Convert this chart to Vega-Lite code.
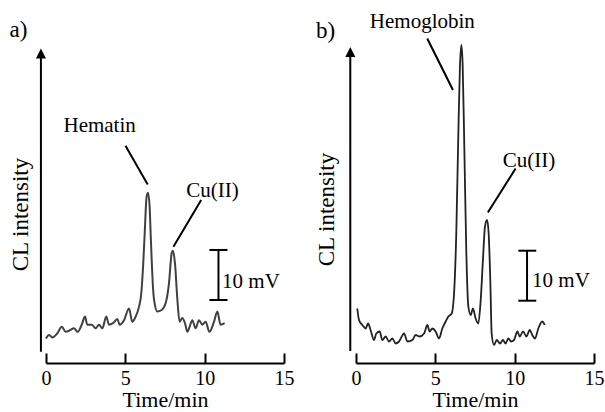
{
  "$schema": "https://vega.github.io/schema/vega-lite/v6.json",
  "padding": {"left": 9, "top": 8, "right": 0, "bottom": 0},
  "bounds": "flush",
  "spacing": 72,
  "background": "white",
  "config": {
    "view": {"stroke": null},
    "font": "Liberation Serif, Times New Roman, serif",
    "axis": {"grid": false, "labelFont": "Liberation Serif, Times New Roman, serif", "titleFont": "Liberation Serif, Times New Roman, serif", "labelColor": "black", "titleColor": "black", "titleFontWeight": "normal"},
    "text": {"font": "Liberation Serif, Times New Roman, serif", "color": "black"}
  },
  "datasets": {
    "traceA": [
      {"t": 0.0, "v": 4.8}, {"t": 0.19, "v": 5.5}, {"t": 0.4, "v": 5.0}, {"t": 0.71, "v": 5.8}, {"t": 1.0, "v": 7.1},
      {"t": 1.24, "v": 6.1}, {"t": 1.55, "v": 6.5}, {"t": 1.76, "v": 6.8}, {"t": 2.0, "v": 6.1}, {"t": 2.25, "v": 7.5},
      {"t": 2.46, "v": 9.1}, {"t": 2.6, "v": 7.5}, {"t": 2.88, "v": 7.5}, {"t": 3.13, "v": 6.8}, {"t": 3.34, "v": 7.5},
      {"t": 3.55, "v": 6.8}, {"t": 3.8, "v": 9.1}, {"t": 3.97, "v": 7.5}, {"t": 4.22, "v": 7.8}, {"t": 4.5, "v": 8.6},
      {"t": 4.64, "v": 7.5}, {"t": 4.92, "v": 8.4}, {"t": 5.23, "v": 10.7}, {"t": 5.44, "v": 8.1}, {"t": 5.65, "v": 9.1},
      {"t": 5.86, "v": 11.0}, {"t": 6.0, "v": 13.5}, {"t": 6.12, "v": 19.0}, {"t": 6.22, "v": 25.4}, {"t": 6.34, "v": 32.6},
      {"t": 6.43, "v": 33.4}, {"t": 6.53, "v": 30.7}, {"t": 6.6, "v": 25.0}, {"t": 6.66, "v": 20.2}, {"t": 6.73, "v": 15.5},
      {"t": 6.81, "v": 12.4}, {"t": 7.02, "v": 10.1}, {"t": 7.29, "v": 10.4}, {"t": 7.54, "v": 11.7}, {"t": 7.75, "v": 15.6},
      {"t": 7.92, "v": 21.5}, {"t": 8.0, "v": 22.0}, {"t": 8.13, "v": 19.5}, {"t": 8.28, "v": 12.4}, {"t": 8.42, "v": 8.1},
      {"t": 8.59, "v": 8.8}, {"t": 8.76, "v": 7.8}, {"t": 8.91, "v": 6.1}, {"t": 9.05, "v": 7.1}, {"t": 9.22, "v": 8.4},
      {"t": 9.43, "v": 6.8}, {"t": 9.64, "v": 8.4}, {"t": 9.85, "v": 7.5}, {"t": 10.06, "v": 8.1}, {"t": 10.3, "v": 6.1},
      {"t": 10.59, "v": 8.1}, {"t": 10.8, "v": 10.1}, {"t": 11.0, "v": 7.5}, {"t": 11.26, "v": 7.8}
    ],
    "traceB": [
      {"t": 0.08, "v": 10.7}, {"t": 0.19, "v": 8.4}, {"t": 0.4, "v": 7.4}, {"t": 0.61, "v": 6.7}, {"t": 0.76, "v": 7.7},
      {"t": 0.92, "v": 6.4}, {"t": 1.13, "v": 4.4}, {"t": 1.28, "v": 5.7}, {"t": 1.49, "v": 6.1}, {"t": 1.66, "v": 4.4},
      {"t": 1.87, "v": 5.1}, {"t": 2.08, "v": 4.1}, {"t": 2.29, "v": 4.7}, {"t": 2.5, "v": 3.7}, {"t": 2.71, "v": 4.1},
      {"t": 3.03, "v": 5.7}, {"t": 3.24, "v": 4.1}, {"t": 3.55, "v": 4.4}, {"t": 3.76, "v": 5.4}, {"t": 4.01, "v": 5.1},
      {"t": 4.29, "v": 5.7}, {"t": 4.5, "v": 7.4}, {"t": 4.64, "v": 6.1}, {"t": 4.81, "v": 6.7}, {"t": 5.02, "v": 6.1},
      {"t": 5.23, "v": 4.7}, {"t": 5.44, "v": 6.7}, {"t": 5.65, "v": 8.1}, {"t": 5.82, "v": 9.1}, {"t": 6.03, "v": 9.7},
      {"t": 6.18, "v": 13.7}, {"t": 6.32, "v": 25.7}, {"t": 6.45, "v": 45.7}, {"t": 6.55, "v": 59.0}, {"t": 6.64, "v": 63.4},
      {"t": 6.72, "v": 59.7}, {"t": 6.83, "v": 42.4}, {"t": 6.95, "v": 22.4}, {"t": 7.08, "v": 11.1}, {"t": 7.23, "v": 9.4},
      {"t": 7.37, "v": 10.7}, {"t": 7.54, "v": 8.7}, {"t": 7.71, "v": 7.7}, {"t": 7.86, "v": 12.4}, {"t": 8.0, "v": 20.4},
      {"t": 8.13, "v": 27.1}, {"t": 8.26, "v": 28.4}, {"t": 8.36, "v": 25.7}, {"t": 8.47, "v": 15.7}, {"t": 8.55, "v": 5.7},
      {"t": 8.7, "v": 3.4}, {"t": 8.87, "v": 4.4}, {"t": 9.08, "v": 3.7}, {"t": 9.26, "v": 4.4}, {"t": 9.43, "v": 3.7},
      {"t": 9.6, "v": 4.7}, {"t": 9.77, "v": 4.1}, {"t": 9.96, "v": 4.4}, {"t": 10.17, "v": 6.1}, {"t": 10.32, "v": 5.1},
      {"t": 10.53, "v": 6.1}, {"t": 10.74, "v": 5.1}, {"t": 10.95, "v": 6.4}, {"t": 11.11, "v": 5.4}, {"t": 11.28, "v": 4.7},
      {"t": 11.49, "v": 6.7}, {"t": 11.74, "v": 8.1}, {"t": 11.89, "v": 7.4}
    ]
  },
  "hconcat": [
    {
      "width": 238,
      "height": 343,
      "layer": [
        {
          "data": {"name": "traceA"},
          "mark": {"type": "line", "color": "#404040", "strokeWidth": 2, "interpolate": "monotone"},
          "encoding": {
            "x": {"field": "t", "type": "quantitative", "scale": {"domain": [0, 15], "nice": false, "zero": false},
              "axis": {"title": "Time/min", "values": [0, 5, 10, 15], "format": "d", "offset": 12, "domainWidth": 2, "domainColor": "black", "tickColor": "black", "tickWidth": 2, "tickSize": -10, "labelPadding": 15, "labelFontSize": 20, "titleFontSize": 22, "titlePadding": 1, "labelFlush": false}},
            "y": {"field": "v", "type": "quantitative", "scale": {"domain": [2.35, 69.6], "nice": false, "zero": false},
              "axis": {"title": "CL intensity", "domain": false, "ticks": false, "labels": false, "titleFontSize": 23, "titlePadding": 14, "titleY": 206}}
          }
        },
        {
          "data": {"values": [{"t": -0.32, "v": 2.2, "v2": 60.7}]},
          "mark": {"type": "rule", "color": "black", "strokeWidth": 2},
          "encoding": {"x": {"field": "t", "type": "quantitative"}, "y": {"field": "v", "type": "quantitative"}, "y2": {"field": "v2"}}
        },
        {
          "data": {"values": [{"t": -0.32, "v": 60.7}]},
          "mark": {"type": "point", "shape": "M-1,1L1,1L0,-1Z", "size": 100, "filled": true, "color": "black", "opacity": 1},
          "encoding": {"x": {"field": "t", "type": "quantitative"}, "y": {"field": "v", "type": "quantitative"}}
        },
        {
          "data": {"values": [
            {"t": 10.87, "v": 12.35, "t2": 10.87, "v2": 22.16},
            {"t": 10.3, "v": 22.16, "t2": 11.44, "v2": 22.16},
            {"t": 10.3, "v": 12.35, "t2": 11.44, "v2": 12.35},
            {"t": 5.01, "v": 42.6, "t2": 6.41, "v2": 35.0},
            {"t": 9.78, "v": 31.96, "t2": 8.03, "v2": 22.8}
          ]},
          "mark": {"type": "rule", "color": "black", "strokeWidth": 2},
          "encoding": {"x": {"field": "t", "type": "quantitative"}, "y": {"field": "v", "type": "quantitative"}, "x2": {"field": "t2"}, "y2": {"field": "v2"}}
        },
        {
          "data": {"values": [
            {"t": 3.38, "v": 45.35, "label": "Hematin"},
            {"t": 10.5, "v": 32.6, "label": "Cu(II)"}
          ]},
          "mark": {"type": "text", "fontSize": 21, "align": "center", "baseline": "alphabetic"},
          "encoding": {"x": {"field": "t", "type": "quantitative"}, "y": {"field": "v", "type": "quantitative"}, "text": {"field": "label"}}
        },
        {
          "data": {"values": [
            {"t": 11.1, "v": 14.7, "label": "10 mV"}
          ]},
          "mark": {"type": "text", "fontSize": 21, "align": "left", "baseline": "alphabetic"},
          "encoding": {"x": {"field": "t", "type": "quantitative"}, "y": {"field": "v", "type": "quantitative"}, "text": {"field": "label"}}
        },
        {
          "data": {"values": [
            {"t": -2.3, "v": 63.9, "label": "a)"}
          ]},
          "mark": {"type": "text", "fontSize": 23, "align": "left", "baseline": "alphabetic"},
          "encoding": {"x": {"field": "t", "type": "quantitative"}, "y": {"field": "v", "type": "quantitative"}, "text": {"field": "label"}}
        }
      ]
    },
    {
      "width": 238,
      "height": 343,
      "layer": [
        {
          "data": {"name": "traceB"},
          "mark": {"type": "line", "color": "#222222", "strokeWidth": 1.8, "interpolate": "monotone"},
          "encoding": {
            "x": {"field": "t", "type": "quantitative", "scale": {"domain": [0, 15], "nice": false, "zero": false},
              "axis": {"title": "Time/min", "values": [0, 5, 10, 15], "format": "d", "offset": 12, "domainWidth": 2, "domainColor": "black", "tickColor": "black", "tickWidth": 2, "tickSize": -10, "labelPadding": 15, "labelFontSize": 20, "titleFontSize": 22, "titlePadding": 1, "labelFlush": false}},
            "y": {"field": "v", "type": "quantitative", "scale": {"domain": [2.2, 70.8], "nice": false, "zero": false},
              "axis": {"title": "CL intensity", "domain": false, "ticks": false, "labels": false, "titleFontSize": 23, "titlePadding": 18, "titleY": 201}}
          }
        },
        {
          "data": {"values": [{"t": -0.36, "v": 2.2, "v2": 62.0}]},
          "mark": {"type": "rule", "color": "black", "strokeWidth": 2},
          "encoding": {"x": {"field": "t", "type": "quantitative"}, "y": {"field": "v", "type": "quantitative"}, "y2": {"field": "v2"}}
        },
        {
          "data": {"values": [{"t": -0.36, "v": 62.0}]},
          "mark": {"type": "point", "shape": "M-1,1L1,1L0,-1Z", "size": 100, "filled": true, "color": "black", "opacity": 1},
          "encoding": {"x": {"field": "t", "type": "quantitative"}, "y": {"field": "v", "type": "quantitative"}}
        },
        {
          "data": {"values": [
            {"t": 10.78, "v": 12.26, "t2": 10.78, "v2": 22.26},
            {"t": 10.23, "v": 22.26, "t2": 11.36, "v2": 22.26},
            {"t": 10.23, "v": 12.26, "t2": 11.36, "v2": 12.26},
            {"t": 4.49, "v": 64.7, "t2": 6.11, "v2": 54.4},
            {"t": 10.06, "v": 38.7, "t2": 8.31, "v2": 29.9}
          ]},
          "mark": {"type": "rule", "color": "black", "strokeWidth": 2},
          "encoding": {"x": {"field": "t", "type": "quantitative"}, "y": {"field": "v", "type": "quantitative"}, "x2": {"field": "t2"}, "y2": {"field": "v2"}}
        },
        {
          "data": {"values": [
            {"t": 4.18, "v": 66.8, "label": "Hemoglobin"},
            {"t": 10.9, "v": 39.1, "label": "Cu(II)"}
          ]},
          "mark": {"type": "text", "fontSize": 21, "align": "center", "baseline": "alphabetic"},
          "encoding": {"x": {"field": "t", "type": "quantitative"}, "y": {"field": "v", "type": "quantitative"}, "text": {"field": "label"}}
        },
        {
          "data": {"values": [
            {"t": 11.1, "v": 15.06, "label": "10 mV"}
          ]},
          "mark": {"type": "text", "fontSize": 21, "align": "left", "baseline": "alphabetic"},
          "encoding": {"x": {"field": "t", "type": "quantitative"}, "y": {"field": "v", "type": "quantitative"}, "text": {"field": "label"}}
        },
        {
          "data": {"values": [
            {"t": -2.52, "v": 64.9, "label": "b)"}
          ]},
          "mark": {"type": "text", "fontSize": 23, "align": "left", "baseline": "alphabetic"},
          "encoding": {"x": {"field": "t", "type": "quantitative"}, "y": {"field": "v", "type": "quantitative"}, "text": {"field": "label"}}
        }
      ]
    }
  ]
}
